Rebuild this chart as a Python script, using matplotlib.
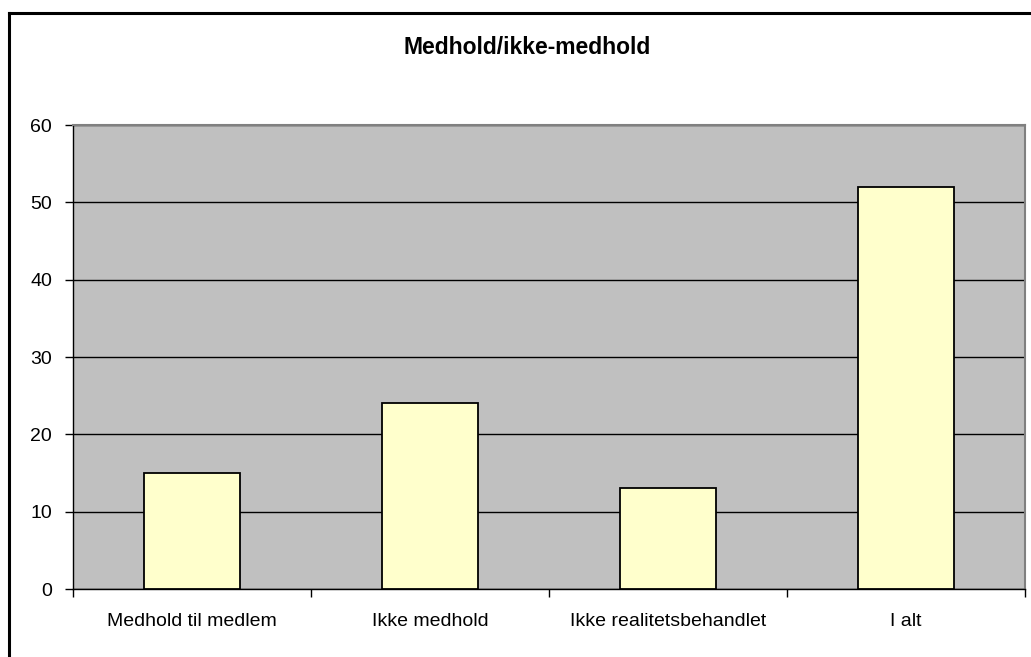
import matplotlib.pyplot as plt
from matplotlib.lines import Line2D

plt.rcParams['font.family'] = ['Liberation Sans', 'DejaVu Sans']

###DATA###
categories = ['Medhold til medlem', 'Ikke medhold', 'Ikke realitetsbehandlet', 'I alt']
values = [15, 24, 13, 52]
yticks = [0, 10, 20, 30, 40, 50, 60]

##### PLOT #####
W, H = 1031, 657
fig = plt.figure(figsize=(W / 100, H / 100), dpi=100)
ax = fig.add_axes([73 / W, 1 - 589 / H, (1025 - 73) / W, (589 - 125) / H])
ax.set_facecolor('#C0C0C0')

x = list(range(len(categories)))
ax.bar(x, values, width=0.40, color='#FFFFCC', edgecolor='black', linewidth=1.3, zorder=3)

# gridlines
ax.set_axisbelow(True)
ax.yaxis.grid(True, color='black', linewidth=1, zorder=1)

ax.set_ylim(0, 60)
ax.set_xlim(-0.5, len(categories) - 0.5)
ax.set_yticks(yticks)

# ticks between categories, labels at centers
ax.set_xticks([i - 0.5 for i in range(len(categories) + 1)])
ax.set_xticklabels([])
ax.set_xticks(x, minor=True)
ax.set_xticklabels(categories, minor=True)
ax.tick_params(axis='x', which='major', direction='out', length=6, width=1, color='black')
ax.tick_params(axis='x', which='minor', length=0, pad=17, labelsize=14)
ax.tick_params(axis='y', direction='out', length=6, width=1, color='black', pad=9, labelsize=14)

for s in ['top', 'right']:
    ax.spines[s].set_color('#808080')
    ax.spines[s].set_linewidth(1.5)
for s in ['left', 'bottom']:
    ax.spines[s].set_color('black')
    ax.spines[s].set_linewidth(1)

fig.text(527 / W, 1 - 48 / H, 'Medhold/ikke-medhold', ha='center', va='center',
         fontsize=16.5, fontweight='bold')

# outer chart border (top and left visible)
fig.add_artist(Line2D([8.5 / W, 8.5 / W], [0, 1 - 13 / H], color='black', linewidth=2.2))
fig.add_artist(Line2D([8.5 / W, 1], [1 - 13 / H, 1 - 13 / H], color='black', linewidth=2.2))

plt.savefig('out.png', dpi=100)
